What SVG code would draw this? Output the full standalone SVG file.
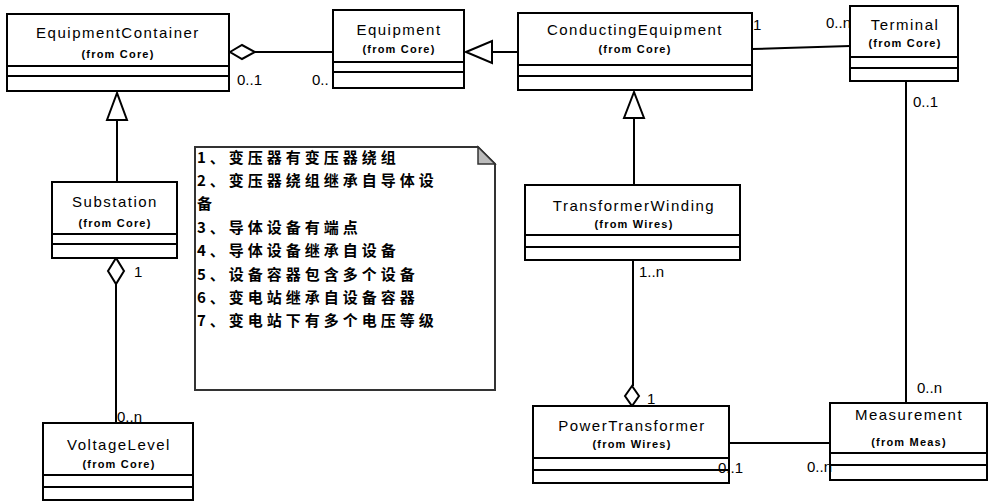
<svg xmlns="http://www.w3.org/2000/svg" width="989" height="502" viewBox="0 0 989 502">
<style>
.box{fill:#fff;stroke:#000;stroke-width:2}
.sep{stroke:#000;stroke-width:2}
.t{font-family:"Liberation Sans",Arial,sans-serif;font-size:15px;text-anchor:middle;fill:#000;letter-spacing:1.5px}
.f{font-family:"Liberation Sans",Arial,sans-serif;font-size:11px;font-weight:bold;text-anchor:middle;fill:#000;letter-spacing:1.2px}
.m{font-family:"Liberation Sans",Arial,sans-serif;font-size:15px;fill:#000}
.ln{fill:none;stroke:#000;stroke-width:2}
.gen{fill:#fff;stroke:#000;stroke-width:2}
.agg{fill:#fff;stroke:#000;stroke-width:2}
.note{font-family:"Noto Sans CJK SC","Liberation Sans",sans-serif;font-size:15px;font-weight:bold;fill:#000;letter-spacing:4px}
</style>
<rect width="989" height="502" fill="#fff"/>

<g id="connectors">
  <!-- EquipmentContainer <>- Equipment -->
  <line class="ln" x1="255" y1="52" x2="333" y2="52"/>
  <polygon class="agg" points="230,52 242,45 255,52 242,59"/>
  <!-- ConductingEquipment -|> Equipment -->
  <line class="ln" x1="492" y1="52" x2="518" y2="52"/>
  <polygon class="gen" points="466,52 492,41 492,63"/>
  <!-- Substation -|> EquipmentContainer -->
  <line class="ln" x1="117" y1="120" x2="117" y2="182"/>
  <polygon class="gen" points="117,93 107,120 127,120"/>
  <!-- TransformerWinding -|> ConductingEquipment -->
  <line class="ln" x1="634" y1="118" x2="634" y2="185"/>
  <polygon class="gen" points="634,92 624,118 644,118"/>
  <!-- ConductingEquipment - Terminal -->
  <polyline class="ln" points="752,49 785,48 850,46"/>
  <!-- Terminal - Measurement -->
  <line class="ln" x1="906" y1="81" x2="906" y2="403"/>
  <!-- Substation <>- VoltageLevel -->
  <line class="ln" x1="116" y1="284" x2="116" y2="423"/>
  <polygon class="agg" points="116,258 108,271 116,284 124,271"/>
  <!-- PowerTransformer <>- TransformerWinding -->
  <line class="ln" x1="633" y1="260" x2="633" y2="386"/>
  <polygon class="agg" points="632,386 625,396 632,406 639,396"/>
  <!-- PowerTransformer - Measurement -->
  <line class="ln" x1="729" y1="443" x2="830" y2="443"/>
</g>

<g id="EquipmentContainer">
  <rect class="box" x="7" y="14" width="222" height="77"/>
  <line class="sep" x1="7" y1="66" x2="229" y2="66"/>
  <line class="sep" x1="7" y1="76" x2="229" y2="76"/>
  <text class="t" x="118" y="38">EquipmentContainer</text>
  <text class="f" x="118" y="58">(from Core)</text>
</g>

<g id="Equipment">
  <rect class="box" x="333" y="10" width="131" height="78"/>
  <line class="sep" x1="333" y1="62" x2="464" y2="62"/>
  <line class="sep" x1="333" y1="72" x2="464" y2="72"/>
  <text class="t" x="399" y="35">Equipment</text>
  <text class="f" x="399" y="53">(from Core)</text>
</g>

<g id="ConductingEquipment">
  <rect class="box" x="518" y="13" width="234" height="77"/>
  <line class="sep" x1="518" y1="65" x2="752" y2="65"/>
  <line class="sep" x1="518" y1="76" x2="752" y2="76"/>
  <text class="t" x="635" y="35">ConductingEquipment</text>
  <text class="f" x="635" y="53">(from Core)</text>
</g>

<g id="Terminal">
  <rect class="box" x="850" y="6" width="108" height="75"/>
  <line class="sep" x1="850" y1="57" x2="958" y2="57"/>
  <line class="sep" x1="850" y1="68" x2="958" y2="68"/>
  <text class="t" x="905" y="30">Terminal</text>
  <text class="f" x="905" y="47">(from Core)</text>
</g>

<g id="Substation">
  <rect class="box" x="52" y="182" width="125" height="76"/>
  <line class="sep" x1="52" y1="234" x2="177" y2="234"/>
  <line class="sep" x1="52" y1="244" x2="177" y2="244"/>
  <text class="t" x="115" y="207">Substation</text>
  <text class="f" x="115" y="227">(from Core)</text>
</g>

<g id="VoltageLevel">
  <rect class="box" x="43" y="423" width="150" height="77"/>
  <line class="sep" x1="43" y1="475" x2="193" y2="475"/>
  <line class="sep" x1="43" y1="487" x2="193" y2="487"/>
  <text class="t" x="119" y="450">VoltageLevel</text>
  <text class="f" x="119" y="468">(from Core)</text>
</g>

<g id="TransformerWinding">
  <rect class="box" x="525" y="185" width="215" height="75"/>
  <line class="sep" x1="525" y1="235" x2="740" y2="235"/>
  <line class="sep" x1="525" y1="247" x2="740" y2="247"/>
  <text class="t" x="634" y="211">TransformerWinding</text>
  <text class="f" x="634" y="228">(from Wires)</text>
</g>

<g id="PowerTransformer">
  <rect class="box" x="533" y="406" width="196" height="77"/>
  <line class="sep" x1="533" y1="458" x2="729" y2="458"/>
  <line class="sep" x1="533" y1="470" x2="729" y2="470"/>
  <text class="t" x="632" y="431">PowerTransformer</text>
  <text class="f" x="632" y="448">(from Wires)</text>
</g>

<g id="Measurement">
  <rect class="box" x="830" y="403" width="157" height="77"/>
  <line class="sep" x1="830" y1="453" x2="987" y2="453"/>
  <line class="sep" x1="830" y1="465" x2="987" y2="465"/>
  <text class="t" x="909" y="420">Measurement</text>
  <text class="f" x="909" y="446">(from Meas)</text>
</g>

<g id="multiplicities">
  <text class="m" x="237" y="85">0..1</text>
  <text class="m" x="312" y="85">0..</text>
  <text class="m" x="753" y="30">1</text>
  <text class="m" x="826" y="28">0..n</text>
  <text class="m" x="913" y="107">0..1</text>
  <text class="m" x="917" y="393">0..n</text>
  <text class="m" x="134" y="277">1</text>
  <text class="m" x="117" y="422">0..n</text>
  <text class="m" x="639" y="277">1..n</text>
  <text class="m" x="647" y="404">1</text>
  <text class="m" x="718" y="473">0..1</text>
  <text class="m" x="807" y="472">0..n</text>
</g>

<g id="Note">
  <path d="M195,147 L478,147 L495,164 L495,390 L195,390 Z" fill="#fff" stroke="#333" stroke-width="2"/>
  <path d="M478,147 L478,164 L495,164 Z" fill="#bbb" stroke="#333" stroke-width="1.5"/>
  <text class="note" x="197" y="163">1、变压器有变压器绕组</text>
  <text class="note" x="197" y="186">2、变压器绕组继承自导体设</text>
  <text class="note" x="197" y="209">备</text>
  <text class="note" x="197" y="233">3、导体设备有端点</text>
  <text class="note" x="197" y="256">4、导体设备继承自设备</text>
  <text class="note" x="197" y="280">5、设备容器包含多个设备</text>
  <text class="note" x="197" y="303">6、变电站继承自设备容器</text>
  <text class="note" x="197" y="326">7、变电站下有多个电压等级</text>
</g>
</svg>
